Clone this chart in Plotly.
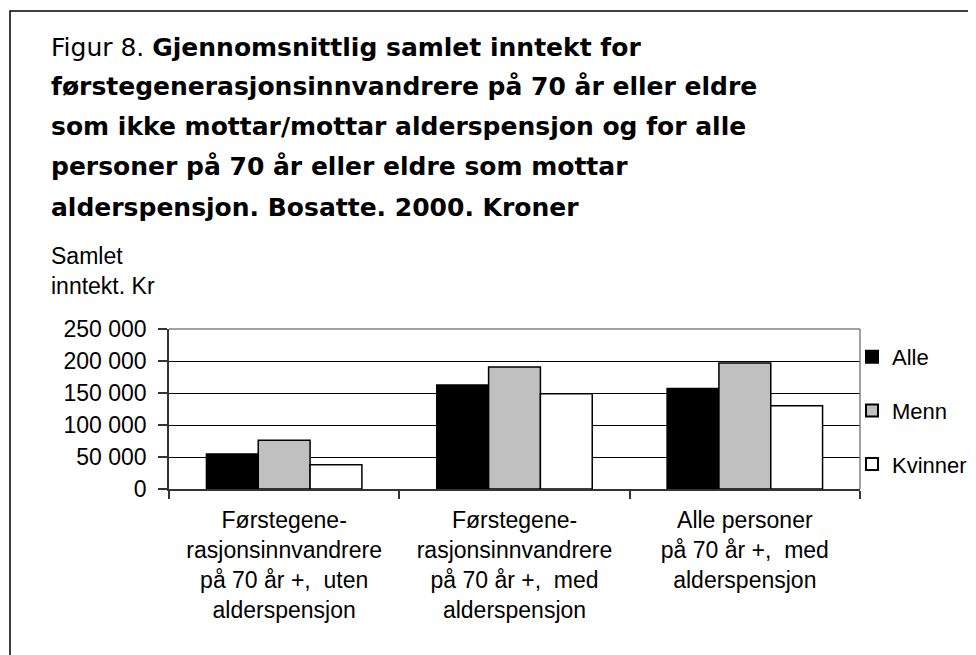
import plotly.graph_objects as go

# ---- data ----
categories = [
    "Førstegene-<br>rasjonsinnvandrere<br>på 70 år +,  uten<br>alderspensjon",
    "Førstegene-<br>rasjonsinnvandrere<br>på 70 år +,  med<br>alderspensjon",
    "Alle personer<br>på 70 år +,  med<br>alderspensjon",
]
series_names = ["Alle", "Menn", "Kvinner"]
alle = [54500, 162500, 157000]
menn = [76000, 190500, 197000]
kvinner = [38000, 149000, 130000]
y_tickvals = [0, 50000, 100000, 150000, 200000, 250000]
y_ticktext = ["0", "50 000", "100 000", "150 000", "200 000", "250 000"]
title_lines = [
    "Figur 8. <b>Gjennomsnittlig samlet inntekt for</b>",
    "<b>førstegenerasjonsinnvandrere på 70 år eller eldre</b>",
    "<b>som ikke mottar/mottar alderspensjon og for alle</b>",
    "<b>personer på 70 år eller eldre som mottar</b>",
    "<b>alderspensjon. Bosatte. 2000. Kroner</b>",
]
y_title = "Samlet<br>inntekt. Kr"

W, H = 976, 655
OFF = 8  # page body margin
# target screen geometry of plot area
SX0, SX1, SY0, SY1 = 169, 860, 329, 489
L = SX0 - OFF
R = W - (SX1 - OFF)
T = SY0 - OFF
B = H - (SY1 - OFF)
PW, PH = W - L - R, H - T - B


def px_x(sx):
    return (sx - SX0) / (SX1 - SX0)


def px_y(sy):
    return (SY1 - sy) / (SY1 - SY0)


FONT = "Liberation Sans, Arial, sans-serif"
TFONT = "DejaVu Sans, Verdana, sans-serif"

fills = ["#000000", "#C0C0C0", "#FFFFFF"]
values = [alle, menn, kvinner]

fig = go.Figure()
for i, (name, vals) in enumerate(zip(series_names, values)):
    fig.add_trace(go.Bar(
        x=categories, y=vals, name=name, legendgroup=name,
        marker=dict(color=fills[i], line=dict(color="#000000", width=1.5)),
        hoverinfo="skip",
    ))

fig.update_layout(
    width=W, height=H, autosize=False,
    margin=dict(l=L, r=R, t=T, b=B, pad=0),
    paper_bgcolor="#FFFFFF", plot_bgcolor="#FFFFFF",
    barmode="group", bargap=0.325, bargroupgap=0,
    font=dict(family=FONT, size=23, color="#000000"),
    showlegend=True,
    legend=dict(
        x=px_x(852), y=px_y(336), xanchor="left", yanchor="top",
        font=dict(family=FONT, size=22, color="#000000"),
        tracegroupgap=22, bgcolor="rgba(0,0,0,0)", borderwidth=0,
        itemsizing="constant",
    ),
)

fig.update_xaxes(
    type="category", showline=True, linecolor="#333333", linewidth=1.5,
    ticks="outside", tickson="boundaries", ticklen=8, tickcolor="#333333",
    tickwidth=1.5, showgrid=False, fixedrange=True, ticklabelstandoff=10,
    tickfont=dict(family=FONT, size=23, color="#000000"),
)
fig.update_yaxes(
    range=[0, 250000], tickvals=y_tickvals, ticktext=y_ticktext,
    showline=True, linecolor="#333333", linewidth=1.5,
    ticks="outside", ticklen=9, tickcolor="#333333", tickwidth=1.5,
    showgrid=True, gridcolor="#000000", gridwidth=1, zeroline=False,
    ticklabelstandoff=7, fixedrange=True,
    tickfont=dict(family=FONT, size=23, color="#000000"),
)

shapes = [
    dict(type="line", xref="paper", yref="paper", x0=0, x1=1, y0=1, y1=1,
         line=dict(color="#808080", width=1.5), layer="above"),
    dict(type="line", xref="paper", yref="paper", x0=1, x1=1, y0=0, y1=1,
         line=dict(color="#808080", width=1.5), layer="above"),
    dict(type="rect", xref="paper", yref="paper",
         x0=px_x(10), x1=px_x(971), y0=px_y(720), y1=px_y(11),
         line=dict(color="#000000", width=1.5), fillcolor="rgba(0,0,0,0)",
         layer="above"),
]

annotations = []
for i, line in enumerate(title_lines):
    annotations.append(dict(
        text=line, xref="paper", yref="paper",
        x=px_x(49), y=px_y(47 + 40 * i), xanchor="left", yanchor="middle",
        showarrow=False, font=dict(family=TFONT, size=25, color="#000000"),
        align="left",
    ))
annotations.append(dict(
    text=y_title, xref="paper", yref="paper",
    x=px_x(49), y=px_y(241), xanchor="left", yanchor="top",
    showarrow=False, font=dict(family=FONT, size=23, color="#000000"),
    align="left",
))

fig.update_layout(shapes=shapes, annotations=annotations)

fig.write_html("out.html")
